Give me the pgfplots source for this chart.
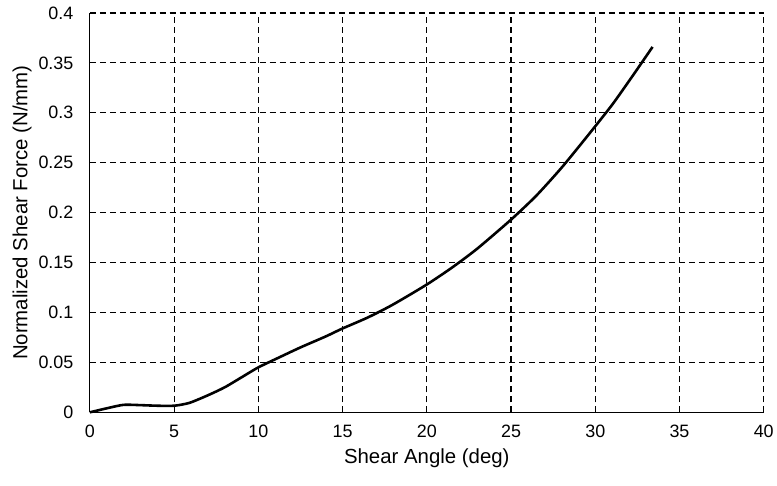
\documentclass[border=0pt]{standalone}
\usepackage{pgfplots}
\pgfplotsset{compat=1.18}
\usepackage{fontspec}
\setmainfont{Liberation Sans}
\begin{document}
\begin{tikzpicture}[x=1bp,y=1bp]
\begin{axis}[
  scale only axis,
  width=675bp, height=400bp,
  xmin=0, xmax=40, ymin=0, ymax=0.4,
  xtick={0,5,...,40},
  ytick={0,0.05,0.1,0.15,0.2,0.25,0.3,0.35,0.4},
  axis lines=left,
  axis line style={-, black, line width=1.3pt},
  grid=major,
  major grid style={black, line width=1.1pt, dash pattern=on 6bp off 4bp},
  tick align=inside,
  major tick length=5bp,
  tick style={black, line width=0.9pt},
  /pgf/number format/assume math mode=true,
  yticklabel style={/pgf/number format/fixed, /pgf/number format/precision=2, font=\fontsize{18}{21}\selectfont, xshift=-13bp},
  xticklabel style={font=\fontsize{18}{21}\selectfont, yshift=-9bp},
  scaled y ticks=false,
  xlabel={Shear Angle (deg)},
  ylabel={Normalized Shear Force (N/mm)},
  label style={font=\fontsize{20.5}{24}\selectfont},
  xlabel style={yshift=-4bp},
  ylabel style={yshift=0bp},
  clip=false,
]
\addplot[black, line width=2.6pt, smooth, tension=0.4] coordinates {
(0,0) (1,0.004) (2,0.0075) (3,0.0072) (4,0.0066) (5,0.0066) (5.9,0.0094) (7,0.017) (8,0.025) (9,0.035) (10,0.045) (11.3,0.0555) (12.5,0.065) (14,0.076) (15,0.084) (16.5,0.095) (18,0.108) (20,0.128) (21.5,0.145) (23,0.164) (25,0.193) (26.5,0.217) (28,0.245) (29.5,0.276) (31,0.308) (32.3,0.339) (33.4,0.366)
};
\end{axis}
\path (current axis.south west) ++(-90bp,-73bp) (current axis.north east) ++(12bp,13bp);
\end{tikzpicture}
\end{document}
